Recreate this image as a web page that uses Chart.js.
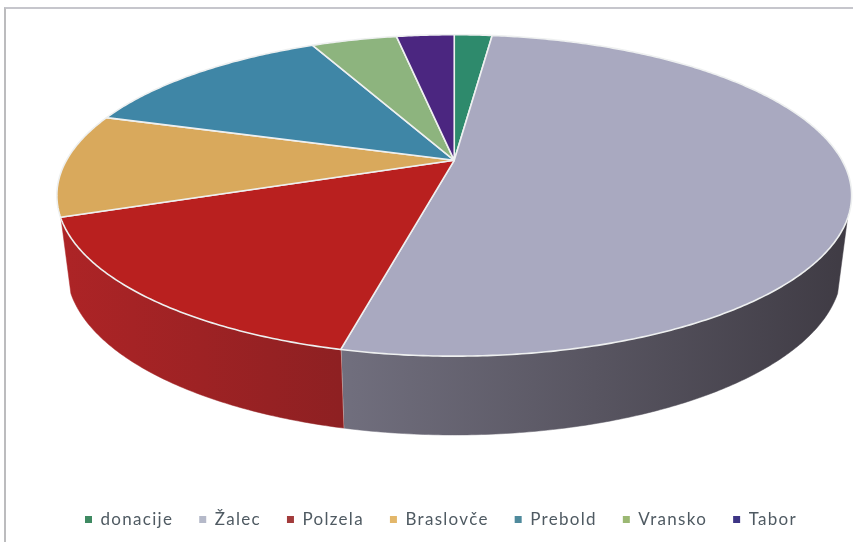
<!DOCTYPE html>
<html>
<head>
<meta charset="utf-8">
<script src="https://cdn.jsdelivr.net/npm/chart.js@4"></script>
<style>
  html, body { margin: 0; background: #fff; overflow: hidden; }
  #wrap { position: relative; width: 853px; height: 542px; overflow: hidden; }
  #frame { position: absolute; left: 4px; top: 7px; right: 0; bottom: 0; border-left: 2px solid #bcbcbe; border-top: 2px solid #c6c6cc; }
  canvas { position: absolute; left: 0; top: 0; filter: blur(0.4px); }
</style>
</head>
<body>
<div id="wrap">
  <div id="frame"></div>
  <!-- canvas runs past the window on the right so the legend centres on x=441 -->
  <canvas id="pie" width="882" height="542"></canvas>
</div>
<script>
const categories = ["donacije", "Žalec", "Polzela", "Braslovče", "Prebold", "Vransko", "Tabor"];
const shares = [1.9, 51.8, 15.7, 10.4, 13.0, 4.3, 2.9];
const topColors = ["#2e8a6c", "#a9a9c0", "#b9201f", "#d9a95c", "#3f86a6", "#8db47e", "#4b2680"];
const legendColors = ["#3f8a62", "#b5b9c9", "#a23b3b", "#e3b76a", "#4f8a9c", "#9bb873", "#3d3585"];
const wallLeft = ["#1f5f4a", "#716f7e", "#ad2426", "#96733e", "#2b5c73", "#617c56", "#331a58"];
const wallRight = ["#1f5f4a", "#3f3b44", "#8e2022", "#96733e", "#2b5c73", "#617c56", "#331a58"];

// perspective of the tilted disc, everything relative to the pie radius
const TILT = -0.21875;
const SPREAD_X = 1.599;
const SPREAD_Y = 0.631;
const SHIFT = 0.0546;
const LIFT = 0.339;
const DEPTH = 0.325;
const WALL_MARGIN = 0.36; // wall starts a bit below the widest point of the rim

function rimPoint(arc, angle, low) {
  const R = arc.outerRadius;
  const u = Math.cos(angle), v = Math.sin(angle);
  const w = 1 + TILT * v;
  const shrink = low ? 0.975 : 1;
  return {
    x: arc.x + R * SHIFT + (R * SPREAD_X * shrink * u) / w,
    y: arc.y - R * LIFT + (R * SPREAD_Y * v) / w + (low ? R * DEPTH * (0.92 + 0.08 * v) : 0),
  };
}

function traceRim(ctx, arc, from, to, low) {
  const steps = Math.max(2, Math.ceil(Math.abs(to - from) / 0.01));
  for (let i = 0; i <= steps; i++) {
    const p = rimPoint(arc, from + ((to - from) * i) / steps, low);
    ctx.lineTo(p.x, p.y);
  }
}

const disc3d = {
  id: "disc3d",
  beforeUpdate(chart) { chart.ctx.letterSpacing = "1.3px"; },
  beforeDatasetDraw(chart) {
    const ctx = chart.ctx;
    const arcs = chart.getDatasetMeta(0).data;
    ctx.save();
    ctx.letterSpacing = "0px";

    // side wall, only the front of the disc shows
    arcs.forEach((arc, i) => {
      const from = Math.max(arc.startAngle, WALL_MARGIN);
      const to = Math.min(arc.endAngle, Math.PI - WALL_MARGIN);
      if (to <= from) return;
      const a = rimPoint(arc, from, false), b = rimPoint(arc, to, false);
      const grad = ctx.createLinearGradient(b.x, 0, a.x, 0);
      grad.addColorStop(0, wallLeft[i]);
      grad.addColorStop(1, wallRight[i]);
      ctx.beginPath();
      traceRim(ctx, arc, from, to, false);
      traceRim(ctx, arc, to, from, true);
      ctx.closePath();
      ctx.fillStyle = grad;
      ctx.fill();
      ctx.strokeStyle = grad;
      ctx.lineWidth = 0.5;
      ctx.stroke();
      // seam between two walls
      if (to === arc.endAngle) {
        const low = rimPoint(arc, to, true);
        ctx.beginPath();
        ctx.moveTo(b.x, b.y);
        ctx.lineTo(low.x, low.y);
        ctx.strokeStyle = "#f3eee6";
        ctx.lineWidth = 1.2;
        ctx.stroke();
      }
    });

    // top face
    arcs.forEach((arc, i) => {
      const c = { x: arc.x + arc.outerRadius * SHIFT, y: arc.y - arc.outerRadius * LIFT };
      ctx.beginPath();
      ctx.moveTo(c.x, c.y);
      traceRim(ctx, arc, arc.startAngle, arc.endAngle, false);
      ctx.closePath();
      ctx.fillStyle = topColors[i];
      ctx.fill();
      ctx.strokeStyle = "#eef0f0";
      ctx.lineWidth = 1.6;
      ctx.lineJoin = "round";
      ctx.stroke();
    });
    ctx.restore();
    return false; // the flat arcs are replaced by the shapes above
  },
};

new Chart(document.getElementById("pie"), {
  type: "pie",
  data: {
    labels: categories,
    datasets: [{ data: shares, backgroundColor: topColors, borderWidth: 0 }],
  },
  options: {
    responsive: false,
    animation: false,
    layout: { padding: { bottom: 4 } },
    plugins: {
      tooltip: { enabled: false },
      legend: {
        position: "bottom",
        labels: {
          boxWidth: 7,
          boxHeight: 7,
          padding: 26,
          color: "#4f5a62",
          font: { family: "Lato", size: 17 },
          generateLabels(chart) {
            return Chart.overrides.pie.plugins.legend.labels.generateLabels(chart)
              .map((item, i) => ({ ...item, fillStyle: legendColors[i] }));
          },
        },
      },
    },
  },
  plugins: [disc3d],
});
</script>
</body>
</html>
